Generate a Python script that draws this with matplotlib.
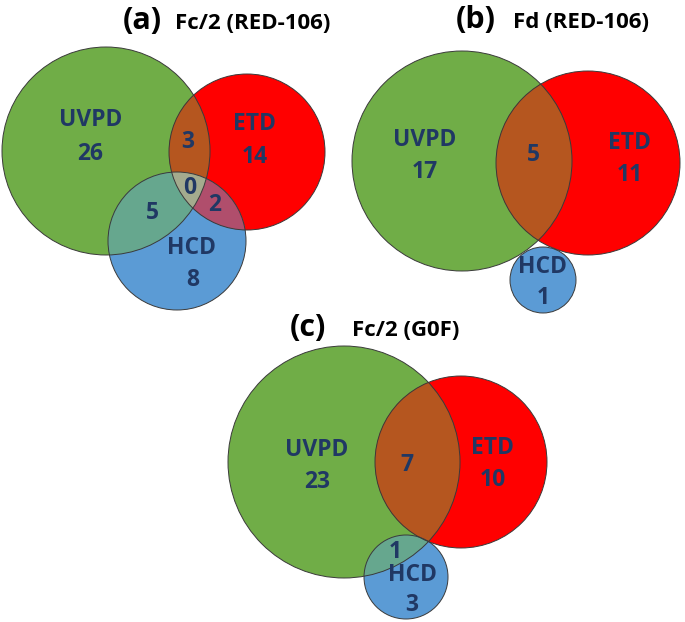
import numpy as np
import matplotlib.pyplot as plt
from matplotlib.patches import Circle, Polygon

plt.rcParams['font.family'] = ['Open Sans', 'DejaVu Sans']

# counts per region
sets = ["UVPD", "ETD", "HCD"]
a_only = [26, 14, 8]           # UVPD, ETD, HCD only
a_pairs = [3, 5, 2]            # UVPD&ETD, UVPD&HCD, ETD&HCD
a_all = 0
b_only = [17, 11, 1]
b_pairs = [5]
c_only = [23, 10, 3]
c_pairs = [7, 1]               # UVPD&ETD, UVPD&HCD

titles = ["(a)", "(b)", "(c)"]
subtitles = ["Fc/2 (RED-106)", "Fd (RED-106)", "Fc/2 (G0F)"]

# colours
GREEN = "#70AD47"
RED = "#FF0000"
BLUE = "#5B9BD5"
GR = "#B5561F"
GB = "#66A78E"
RB = "#B04E6C"
GRB = "#A4AB8E"
TXT = "#203864"
cols = [GREEN, RED, BLUE]

fig = plt.figure(figsize=(6.85, 6.22), dpi=100)
ax = fig.add_axes([0, 0, 1, 1])
ax.set_xlim(0, 685)
ax.set_ylim(622, 0)
ax.axis("off")


def lens(c1, r1, c2, r2, n=720):
    t = np.linspace(0, 2 * np.pi, n, endpoint=False)
    pts = []
    for (ca, ra), (cb, rb) in [((c1, r1), (c2, r2)), ((c2, r2), (c1, r1))]:
        x = ca[0] + ra * np.cos(t)
        y = ca[1] + ra * np.sin(t)
        inside = (x - cb[0]) ** 2 + (y - cb[1]) ** 2 <= rb ** 2
        k = np.argmin(inside)  # an outside point
        x, y, inside = np.roll(x, -k), np.roll(y, -k), np.roll(inside, -k)
        pts.append(np.column_stack([x[inside], y[inside]]))
    return np.vstack(pts)


def venn(geo, triple=False):
    circ = []
    for (c, r), col in zip(geo, cols):
        p = Circle(c, r, facecolor=col, edgecolor="none", zorder=1)
        ax.add_patch(p)
        circ.append(p)
    pairs = [(0, 1, GR), (0, 2, GB), (1, 2, RB)]
    for i, j, col in pairs:
        (ci, ri), (cj, rj) = geo[i], geo[j]
        if np.hypot(ci[0] - cj[0], ci[1] - cj[1]) >= ri + rj:
            continue
        p = Circle(cj, rj, facecolor=col, edgecolor="none", zorder=2)
        ax.add_patch(p)
        p.set_clip_path(circ[i])
    if triple:
        pts = lens(geo[0][0], geo[0][1], geo[1][0], geo[1][1])
        p = Polygon(pts, facecolor=GRB, edgecolor="none", zorder=3)
        ax.add_patch(p)
        p.set_clip_path(circ[2])
    for c, r in geo:
        ax.add_patch(Circle(c, r, facecolor="none", edgecolor="#3a3a3a",
                            lw=0.7, zorder=4))


def lab(x, y, s):
    ax.text(x, y, s, color=TXT, fontsize=16.5, fontweight="bold",
            ha="center", va="center", zorder=5)


def title(x1, x2, y, t, s):
    ax.text(x1, y, t, fontsize=22, fontweight="bold", ha="left", va="baseline")
    ax.text(x2, y, s, fontsize=16, fontweight="bold", ha="left", va="baseline")


# panel (a)
venn([((106, 151), 104), ((247, 152), 78), ((177, 241), 69)], triple=True)
title(123, 175, 29, titles[0], subtitles[0])
lab(91, 120, sets[0]); lab(90, 154, str(a_only[0]))
lab(255, 124, sets[1]); lab(255, 157, str(a_only[1]))
lab(192, 248, sets[2]); lab(193, 280, str(a_only[2]))
lab(188, 142, str(a_pairs[0]))
lab(152, 213, str(a_pairs[1]))
lab(215, 205, str(a_pairs[2]))
lab(190, 188, str(a_all))

# panel (b)
venn([((462, 161), 110), ((588, 163), 92), ((543, 280), 33)])
title(456, 513, 28, titles[1], subtitles[1])
lab(425, 140, sets[0]); lab(425, 172, str(b_only[0]))
lab(630, 143, sets[1]); lab(630, 175, str(b_only[1]))
lab(543, 267, sets[2]); lab(543, 298, str(b_only[2]))
lab(533, 155, str(b_pairs[0]))

# panel (c)
venn([((344, 462), 116), ((461, 462), 86), ((406, 577), 42)])
title(290, 352, 336, titles[2], subtitles[2])
lab(317, 450, sets[0]); lab(317, 482, str(c_only[0]))
lab(493, 448, sets[1]); lab(493, 480, str(c_only[1]))
lab(413, 575, sets[2]); lab(412, 605, str(c_only[2]))
lab(407, 465, str(c_pairs[0]))
lab(395, 552, str(c_pairs[1]))

fig.savefig("out.png", dpi=100)
